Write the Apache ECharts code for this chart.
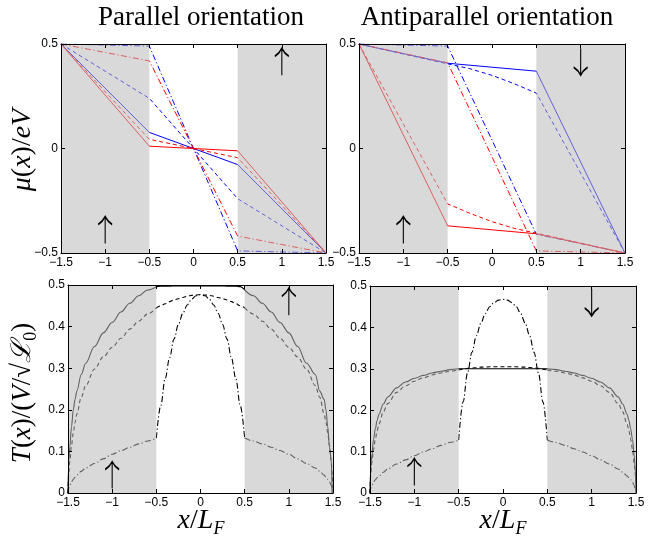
<!DOCTYPE html>
<html><head><meta charset="utf-8">
<script src="https://cdn.jsdelivr.net/npm/echarts@6/dist/echarts.min.js"></script>
<style>html,body{margin:0;padding:0;background:#fff}#c{width:654px;height:539px}</style>
</head><body><div id="c"></div>
<script>
// ---------- data ----------
const xKnots = [-1.5, -0.5, 0.5, 1.5];
// Parallel orientation, chemical potentials (red = spin up, blue = spin down)
const parRedSolid   = [0.5, 0.011, -0.011, -0.5];
const parRedDashed  = [0.5, 0.044, -0.044, -0.5];
const parRedDashDot = [0.5, 0.419, -0.419, -0.5];
const parBlueSolid   = [0.5, 0.077, -0.077, -0.5];
const parBlueDashed  = [0.5, 0.24, -0.24, -0.5];
const parBlueDashDot = [0.5, 0.49, -0.49, -0.5];
// Antiparallel orientation
const apRedSolid    = [0.5, -0.37, -0.408, -0.5];
const apBlueSolid   = [0.5, 0.408, 0.37, -0.5];
const apRedDashDot  = [0.5, 0.41, -0.49, -0.5];
const apBlueDashDot = [0.5, 0.49, -0.41, -0.5];
const xApDash = [-1.5, -0.5, -0.25, 0, 0.25, 0.5, 1.5];
const apRedDashed  = [0.5, -0.265, -0.31, -0.35, -0.382, -0.405, -0.5];
const apBlueDashed = [0.5, 0.405, 0.382, 0.35, 0.31, 0.265, -0.5];

// T(x) curves
const xB = [-1.5,-1.49,-1.48,-1.46,-1.44,-1.42,-1.4,-1.35,-1.3,-1.2,-1.1,-1.0,-0.9,-0.8,-0.7,-0.6,-0.5,
  -0.45,-0.4,-0.35,-0.3,-0.25,-0.2,-0.15,-0.1,-0.05,0,0.05,0.1,0.15,0.2,0.25,0.3,0.35,0.4,0.45,
  0.5,0.6,0.7,0.8,0.9,1.0,1.1,1.2,1.3,1.35,1.4,1.42,1.44,1.46,1.48,1.49,1.5];
const tParSolid = [0,0.08,0.11,0.16,0.2,0.225,0.245,0.285,0.312,0.352,0.385,0.41,0.435,0.456,0.474,0.488,0.496,
  0.497,0.497,0.497,0.498,0.498,0.498,0.498,0.498,0.498,0.498,0.498,0.498,0.498,0.498,0.498,0.497,0.497,0.497,
  0.496,0.488,0.474,0.456,0.435,0.41,0.385,0.352,0.312,0.285,0.245,0.225,0.2,0.16,0.11,0.08,0];
const tParDashed = [0,0.05,0.075,0.115,0.145,0.17,0.19,0.23,0.258,0.298,0.327,0.35,0.372,0.394,0.413,0.43,0.445,
  0.45,0.455,0.46,0.464,0.467,0.47,0.473,0.475,0.476,0.477,0.476,0.475,0.473,0.47,0.467,0.464,0.46,0.455,0.45,
  0.445,0.43,0.413,0.394,0.372,0.35,0.327,0.298,0.258,0.23,0.19,0.17,0.145,0.115,0.075,0.05,0];
const tParDashDot = [0,0.012,0.018,0.027,0.033,0.038,0.043,0.052,0.06,0.071,0.082,0.093,0.102,0.11,0.118,0.125,0.132,
  0.21,0.275,0.325,0.37,0.405,0.432,0.452,0.466,0.474,0.477,0.474,0.466,0.452,0.432,0.405,0.37,0.325,0.275,0.21,
  0.132,0.125,0.118,0.11,0.102,0.093,0.082,0.071,0.06,0.052,0.043,0.038,0.033,0.027,0.018,0.012,0];
const tApSolid = [0,0.065,0.09,0.13,0.155,0.175,0.19,0.215,0.232,0.254,0.268,0.277,0.284,0.29,0.294,0.298,0.3,
  0.3,0.3,0.3,0.3,0.3,0.3,0.3,0.3,0.3,0.3,0.3,0.3,0.3,0.3,0.3,0.3,0.3,0.3,0.3,
  0.3,0.298,0.294,0.29,0.284,0.277,0.268,0.254,0.232,0.215,0.19,0.175,0.155,0.13,0.09,0.065,0];
const tApDashed = [0,0.05,0.072,0.105,0.13,0.15,0.166,0.196,0.216,0.243,0.259,0.27,0.278,0.285,0.29,0.294,0.297,
  0.299,0.301,0.302,0.303,0.304,0.304,0.305,0.305,0.305,0.305,0.305,0.305,0.305,0.304,0.304,0.303,0.302,0.301,0.299,
  0.297,0.294,0.29,0.285,0.278,0.27,0.259,0.243,0.216,0.196,0.166,0.15,0.13,0.105,0.072,0.05,0];
const tApDashDot = [0,0.012,0.018,0.026,0.032,0.037,0.041,0.05,0.058,0.07,0.08,0.09,0.099,0.107,0.115,0.122,0.128,
  0.22,0.29,0.34,0.38,0.41,0.433,0.45,0.46,0.466,0.468,0.466,0.46,0.45,0.433,0.41,0.38,0.34,0.29,0.22,
  0.128,0.122,0.115,0.107,0.099,0.09,0.08,0.07,0.058,0.05,0.041,0.037,0.032,0.026,0.018,0.012,0];

// spin arrows [x, y, direction]
const arrowsTL = [[-1, -0.39, 'up'], [1, 0.415, 'up']];
const arrowsTR = [[-1, -0.39, 'up'], [1, 0.415, 'down']];
const arrowsBL = [[-1, 0.043, 'up'], [1, 0.46, 'up']];
const arrowsBR = [[-1, 0.051, 'up'], [1, 0.46, 'down']];

const shadeRanges = [[-1.5, -0.5], [0.5, 1.5]];
const xTicks = {min: -1.5, max: 1.5, interval: 0.5};
const titles = ['Parallel orientation', 'Antiparallel orientation'];

// ---------- build ----------
const chart = echarts.init(document.getElementById('c'));
const fmt = v => (v < 0 ? '\u2212' : '') + Math.abs(+v.toFixed(2));
const grids = [
  {left: 61, top: 44, width: 265, height: 209},
  {left: 359, top: 44, width: 266, height: 209},
  {left: 68, top: 285, width: 265, height: 208},
  {left: 370, top: 286, width: 266, height: 207}
];
const yRanges = [[-0.5, 0.5, 0.5], [-0.5, 0.5, 0.5], [0, 0.5, 0.1], [0, 0.5, 0.1]];
const xAxes = [], yAxes = [];
grids.forEach((g, gi) => {
  ['bottom', 'top'].forEach((pos, k) => xAxes.push({
    gridIndex: gi, type: 'value', position: pos, min: xTicks.min, max: xTicks.max, interval: xTicks.interval, z: 30,
    axisLine: {show: true, onZero: false, lineStyle: {color: '#000', width: 1}},
    axisTick: {show: true, inside: true, length: 4, lineStyle: {color: '#000'}},
    axisLabel: {show: k === 0, margin: 4, color: '#000', fontSize: 12, fontFamily: 'Liberation Sans', formatter: fmt},
    splitLine: {show: false}
  }));
  const yr = yRanges[gi];
  ['left', 'right'].forEach((pos, k) => yAxes.push({
    gridIndex: gi, type: 'value', position: pos, min: yr[0], max: yr[1], interval: yr[2], z: 30,
    axisLine: {show: true, onZero: false, lineStyle: {color: '#000', width: 1}},
    axisTick: {show: true, inside: true, length: 4, lineStyle: {color: '#000'}},
    axisLabel: {show: k === 0, margin: 3, color: '#000', fontSize: 12, fontFamily: 'Liberation Sans', formatter: fmt},
    splitLine: {show: false}
  }));
});

const series = [];
function addLine(gi, pts, color, type, width, smooth) {
  series.push({
    type: 'line', xAxisIndex: 2 * gi, yAxisIndex: 2 * gi, data: pts,
    symbol: 'none', showSymbol: false, animation: false, z: 2, silent: true,
    smooth: smooth || false, smoothMonotone: smooth ? 'x' : undefined,
    itemStyle: {color: color},
    lineStyle: {color: color, width: width || 1, type: type}
  });
}
const zip = (xs, ys) => xs.map((x, i) => [x, ys[i]]);
// bottom curves: smooth each region separately (kinks stay at x = ±0.5)
const cuts = [0, xB.indexOf(-0.5), xB.indexOf(0.5), xB.length - 1];
function addCurve(gi, ys, color, type) {
  const pts = zip(xB, ys);
  for (let k = 0; k < 3; k++) addLine(gi, pts.slice(cuts[k], cuts[k + 1] + 1), color, type, 1.1, 0.35);
}
const DASH = [4, 3], DASHDOT = [6, 2.5, 1.2, 2.5];
const RED = '#ff0000', BLUE = '#0000ff', BLK = '#000000';
addLine(0, zip(xKnots, parBlueSolid), BLUE, 'solid');
addLine(0, zip(xKnots, parBlueDashed), BLUE, DASH);
addLine(0, zip(xKnots, parBlueDashDot), BLUE, DASHDOT);
addLine(0, zip(xKnots, parRedSolid), RED, 'solid');
addLine(0, zip(xKnots, parRedDashed), RED, DASH);
addLine(0, zip(xKnots, parRedDashDot), RED, DASHDOT);
addLine(1, zip(xKnots, apBlueSolid), BLUE, 'solid');
addLine(1, zip(xApDash, apBlueDashed), BLUE, DASH);
addLine(1, zip(xKnots, apBlueDashDot), BLUE, DASHDOT);
addLine(1, zip(xKnots, apRedSolid), RED, 'solid');
addLine(1, zip(xApDash, apRedDashed), RED, DASH);
addLine(1, zip(xKnots, apRedDashDot), RED, DASHDOT);
addCurve(2, tParSolid, BLK, 'solid');
addCurve(2, tParDashed, BLK, DASH);
addCurve(2, tParDashDot, BLK, DASHDOT);
addCurve(3, tApSolid, BLK, 'solid');
addCurve(3, tApDashed, BLK, DASH);
addCurve(3, tApDashDot, BLK, DASHDOT);

// semi-transparent grey shading of the ferromagnetic regions (drawn over the curves)
grids.forEach((g, gi) => series.push({
  type: 'line', xAxisIndex: 2 * gi, yAxisIndex: 2 * gi, data: [[0, 0]], symbol: 'none',
  lineStyle: {opacity: 0}, itemStyle: {opacity: 0}, z: 10, silent: true, animation: false,
  markArea: {silent: true, z: 10, itemStyle: {color: 'rgb(183,183,183)', opacity: 0.53},
    data: shadeRanges.map(r => [{xAxis: r[0]}, {xAxis: r[1]}])}
}));

const UP = 'path://M7,27 L7,1 M1,8 Q5,5 7,0 Q9,5 13,8';
const DOWN = 'path://M7,0 L7,26 M1,19 Q5,22 7,27 Q9,22 13,19';
[arrowsTL, arrowsTR, arrowsBL, arrowsBR].forEach((arr, gi) => series.push({
  type: 'scatter', xAxisIndex: 2 * gi, yAxisIndex: 2 * gi, z: 20, silent: true, animation: false,
  data: arr.map(a => ({value: [a[0], a[1]], symbol: a[2] === 'up' ? UP : DOWN})),
  symbolSize: [14, 27],
  itemStyle: {color: 'none', borderColor: '#000', borderWidth: 1.5, opacity: 1}
}));

const serif = 'Liberation Serif';
const ctr = {align: 'center', verticalAlign: 'middle', textAlign: 'center', textVerticalAlign: 'middle'};
function mathRich(fs) {
  return {i: {fontFamily: serif, fontStyle: 'italic', fontSize: fs, lineHeight: 34, fill: '#000'},
          r: {fontFamily: serif, fontSize: fs, lineHeight: 34, fill: '#000'},
          s: {fontFamily: serif, fontSize: Math.round(fs * 0.66), lineHeight: 16, verticalAlign: 'bottom', fill: '#000'},
          si: {fontFamily: serif, fontStyle: 'italic', fontSize: Math.round(fs * 0.66), lineHeight: 16, verticalAlign: 'bottom', fill: '#000'}};
}
const graphic = [
  {type: 'text', x: 201, y: 18, style: Object.assign({text: titles[0], font: '27px "' + serif + '"', fill: '#000'}, ctr)},
  {type: 'text', x: 487, y: 18, style: Object.assign({text: titles[1], font: '27px "' + serif + '"', fill: '#000'}, ctr)},
  {type: 'text', x: 23, y: 150, rotation: Math.PI / 2, style: Object.assign({
    text: '{i|μ}{r|(}{i|x}{r|)/}{i|eV}', rich: mathRich(28)}, ctr)},
  {type: 'text', x: 23, y: 393, rotation: Math.PI / 2, style: Object.assign({
    text: '{i|T}{r|(}{i|x}{r|)/(}{i|V}{r|/√}{i|ℒ}{s|0}{r|)}', rich: mathRich(27)}, ctr)},
  {type: 'text', x: 201, y: 521, style: Object.assign({
    text: '{i|x}{r|/}{i|L}{si|F}', rich: mathRich(28)}, ctr)},
  {type: 'text', x: 503, y: 521, style: Object.assign({
    text: '{i|x}{r|/}{i|L}{si|F}', rich: mathRich(28)}, ctr)}
];

chart.setOption({
  animation: false, backgroundColor: '#fff',
  grid: grids.map(g => Object.assign({containLabel: false, show: false}, g)),
  xAxis: xAxes, yAxis: yAxes, series: series, graphic: graphic
});
</script></body></html>
